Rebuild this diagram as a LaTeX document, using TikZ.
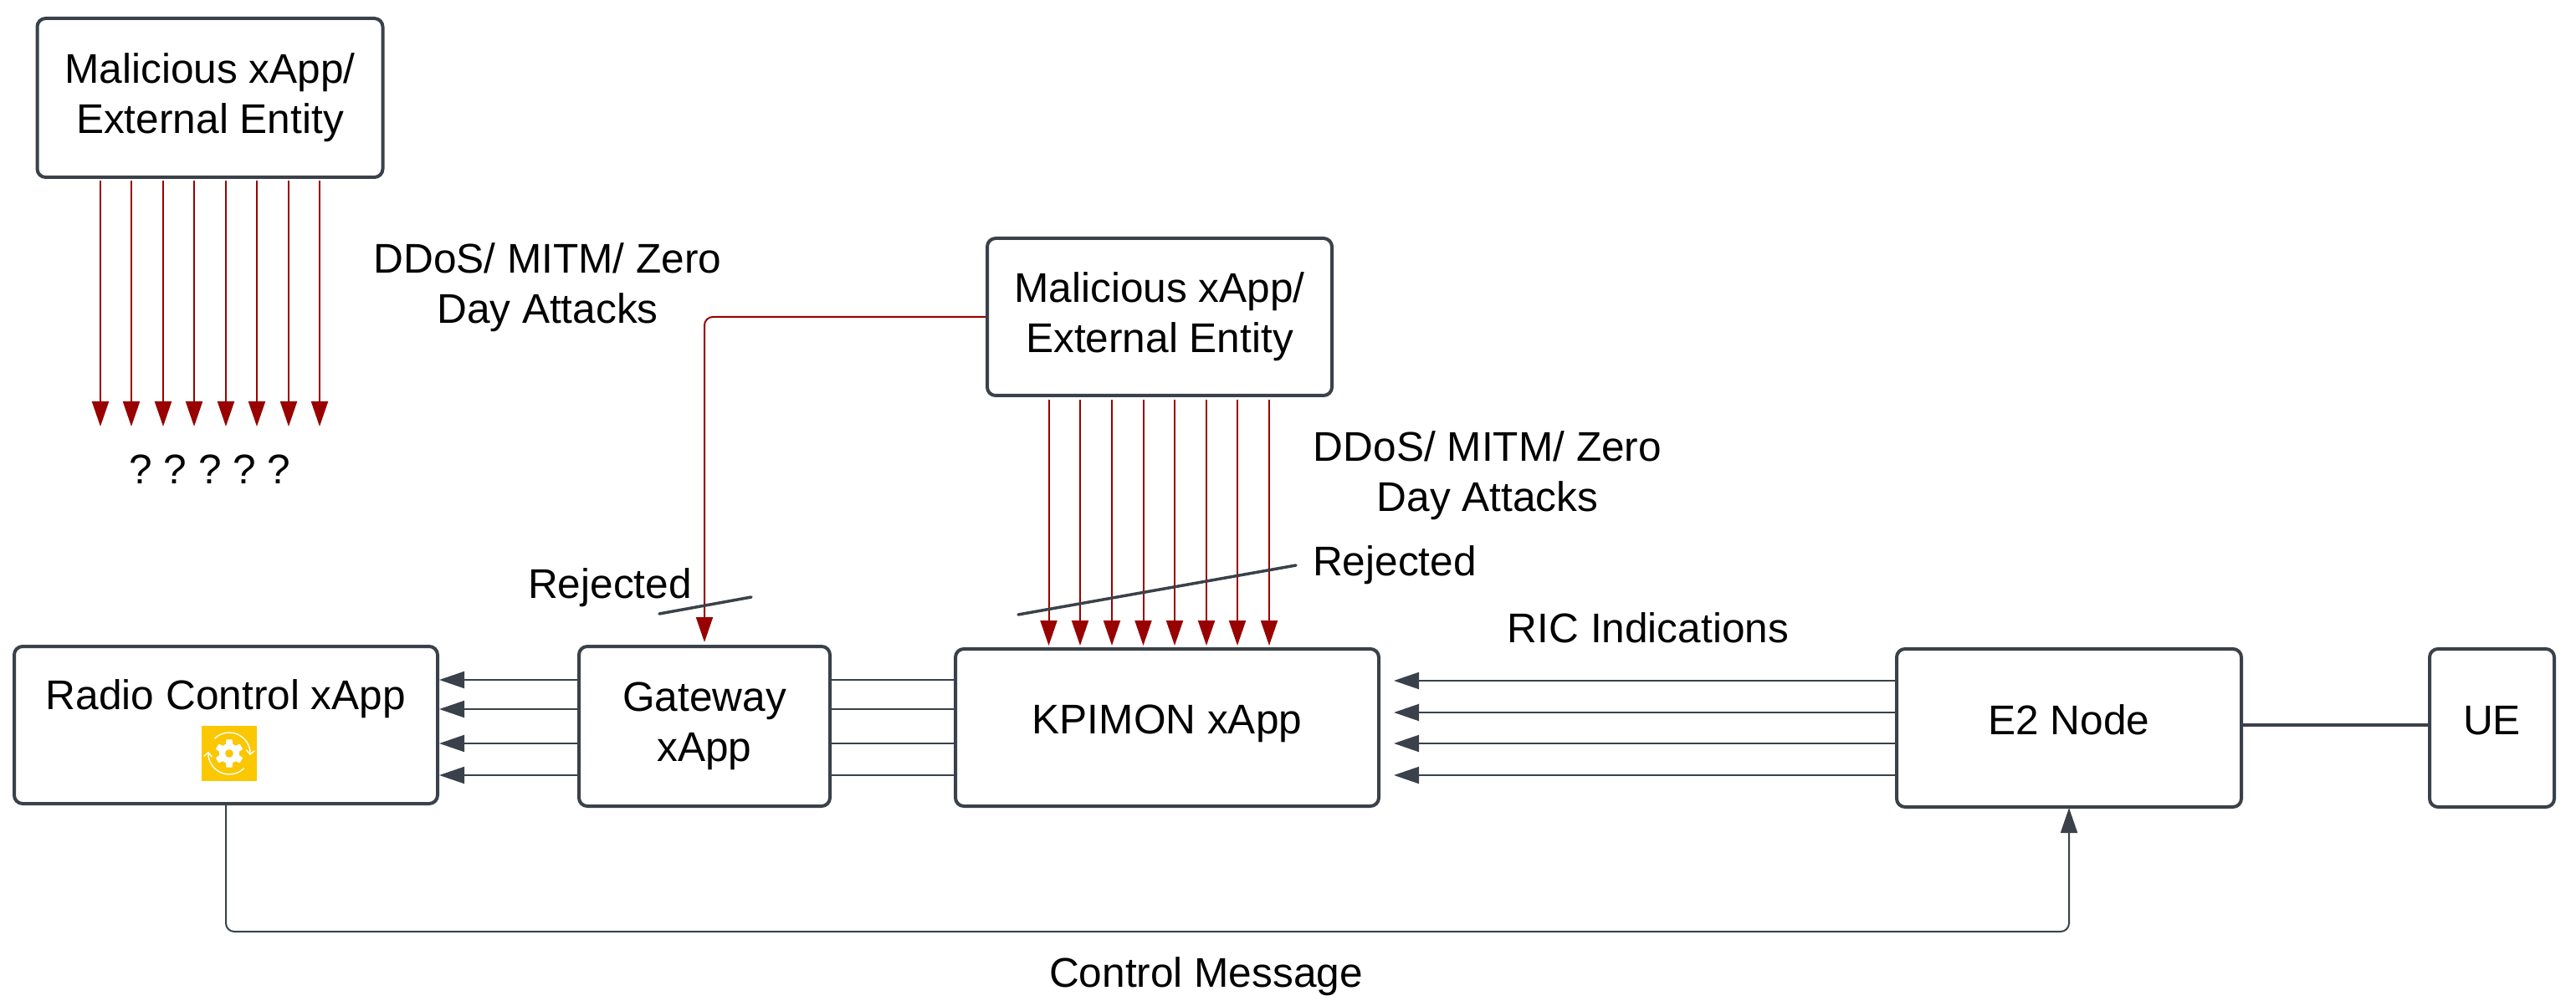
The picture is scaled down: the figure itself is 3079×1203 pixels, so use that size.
\documentclass[tikz,border=0pt]{standalone}
\usepackage{fontspec}
\setmainfont{Liberation Sans}
\usetikzlibrary{arrows.meta}
\definecolor{slate}{HTML}{3A414A}
\definecolor{attackred}{HTML}{990000}
\definecolor{iconyellow}{HTML}{FAC700}
\tikzset{
    txt/.style={font=\fontsize{24.8}{30}\selectfont\frenchspacing, align=center, inner sep=0pt},
    box/.style={txt, draw=slate, line width=2pt, fill=white, rounded corners=5pt},
    onebox/.style={box, text height=17pt, text depth=9.5pt},
    attackline/.style={draw=attackred, line width=1pt, -{Triangle[length=15pt,width=10pt]}},
    linkline/.style={draw=slate, line width=1pt},
    linkarrow/.style={linkline, -{Triangle[length=15pt,width=10pt]}},
    slash/.style={draw=slate, line width=1.75pt, line cap=round}
}
\begin{document}
\begin{tikzpicture}[x=0.5pt, y=-0.5pt]
        \useasboundingbox (0,0) rectangle (3079,1203);
        % Draw the boxes
        \node[box, minimum width=206.5pt, minimum height=95pt] (maltop) at (251,117) {Malicious xApp/\\External Entity};
        \node[box, minimum width=206pt, minimum height=94pt] (malmid) at (1386,379) {Malicious xApp/\\External Entity};
        \node[onebox, text depth=36pt, minimum width=253pt, minimum height=94pt] (radio) at (270,867) {Radio Control xApp};
        \node[box, minimum width=150pt, minimum height=95.5pt] (gateway) at (842,868.5) {Gateway\\xApp};
        \node[onebox, minimum width=253pt, minimum height=94pt] (kpimon) at (1395,870) {KPIMON xApp};
        \node[onebox, minimum width=206pt, minimum height=94.5pt] (e2) at (2473,870.5) {E2 Node};
        \node[onebox, minimum width=74.5pt, minimum height=94.5pt] (ue) at (2978.5,870.5) {UE};
        % Draw the icon in the radio box
        \node[fill=iconyellow, minimum size=33pt, inner sep=0pt] (icon) at (274,901) {};
        \begin{scope}[shift={(icon.center)}, x=0.5pt, y=0.5pt]
            \fill[white, even odd rule] (78:17) \foreach \a in {90,150,...,390} {
                -- ({\a-12}:17) -- ({\a+12}:17) -- ({\a+20}:12) -- ({\a+40}:12)
            } -- cycle (0,0) circle (5);
            \draw[white, line width=0.7pt, -{Straight Barb[length=2.5pt,width=5pt]}] (135:25) arc[start angle=135, end angle=-5, radius=25];
            \draw[white, line width=0.7pt, -{Straight Barb[length=2.5pt,width=5pt]}] (-45:25) arc[start angle=-45, end angle=-185, radius=25];
        \end{scope}
        % Draw the attacks from the top box
        \foreach \x in {120,157,195,232,270,307,345,382} {
            \coordinate (miss\x) at (\x,510);
            \draw[attackline, shorten <=1pt] (maltop.south -| \x,0) -- (miss\x);
        }
        % Draw the attacks from the middle box
        \foreach \x in {1253.5,1291,1329,1366.5,1404,1442,1479,1517} {
            \draw[attackline, shorten <=1.5pt, shorten >=1pt] (malmid.south -| \x,0) -- (kpimon.north -| \x,0);
        }
        \draw[attackline, rounded corners=5pt, shorten >=1.5pt] (malmid.west) -| (gateway.north);
        % Draw the links between the xApps
        \foreach \y in {813,848,889,927} {
            \draw[linkarrow] (gateway.west |- 0,\y) -- (radio.east |- 0,\y);
            \draw[linkline] (kpimon.west |- 0,\y) -- (gateway.east |- 0,\y);
        }
        \foreach \y in {814,852,889,927} {
            \draw[linkarrow, shorten >=8pt] (e2.west |- 0,\y) -- (kpimon.east |- 0,\y);
        }
        \draw[slate, line width=2pt] (e2.east |- 0,867) -- (ue.west |- 0,867);
        % Draw the control message
        \coordinate (ctrl) at (0,1114);
        \draw[linkarrow, rounded corners=5pt, shorten >=-0.5pt] (radio.south) -- (radio.south |- ctrl) -- (e2.south |- ctrl) -- (e2.south);
        % Draw the reject marks
        \coordinate (rejAa) at (788,734);
        \coordinate (rejAb) at (898,714);
        \coordinate (rejBa) at (1217,735);
        \coordinate (rejBb) at (1549,676);
        \draw[slash] (rejAa) -- (rejAb);
        \draw[slash] (rejBa) -- (rejBb);
        % Label everything else
        \node[txt, anchor=base] (ask) at (251,578) {? ? ? ? ?};
        \node[txt] (ddosleft) at (654.5,344) {DDoS/ MITM/ Zero\\Day Attacks};
        \node[txt] (ddosright) at (1778,569) {DDoS/ MITM/ Zero\\Day Attacks};
        \node[txt, anchor=base] (rejleft) at (729,715) {Rejected};
        \node[txt, anchor=base] (rejright) at (1667,688) {Rejected};
        \node[txt, anchor=base] (ric) at (1970,768) {RIC Indications};
        \node[txt, anchor=base] (ctrlmsg) at (1441.5,1180) {Control Message};
\end{tikzpicture}
\end{document}
